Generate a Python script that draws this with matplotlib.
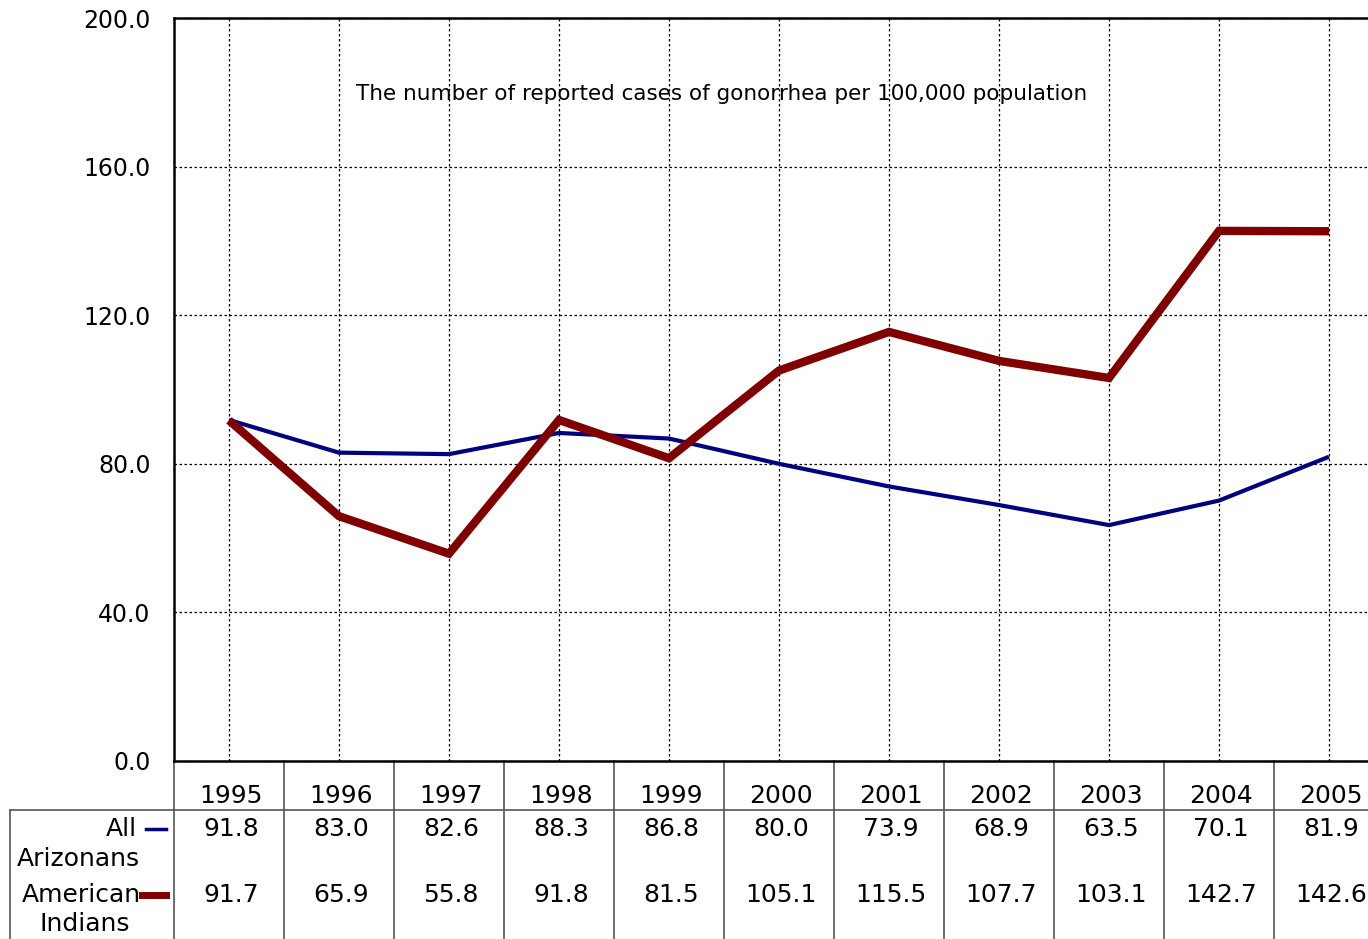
import matplotlib
matplotlib.use("Agg")
import matplotlib.pyplot as plt
from matplotlib.lines import Line2D

years = ["1995", "1996", "1997", "1998", "1999", "2000", "2001", "2002", "2003", "2004", "2005"]
all_arizonans = [91.8, 83.0, 82.6, 88.3, 86.8, 80.0, 73.9, 68.9, 63.5, 70.1, 81.9]
american_indians = [91.7, 65.9, 55.8, 91.8, 81.5, 105.1, 115.5, 107.7, 103.1, 142.7, 142.6]
yticks = [0, 40, 80, 120, 160, 200]
title_text = "The number of reported cases of gonorrhea per 100,000 population"
blue = "#000080"
red = "#800000"

plt.rcParams['font.family'] = ['DejaVu Sans']
W, H = 1368, 939
fig = plt.figure(figsize=(W / 100, H / 100), dpi=100)
left_px, right_px, top_px, bot_px = 174, 1384, 18, 761
ax = fig.add_axes([left_px / W, 1 - bot_px / H, (right_px - left_px) / W, (bot_px - top_px) / H])

x = list(range(len(years)))
ax.plot(x, all_arizonans, color=blue, lw=3.0, solid_joinstyle='miter', solid_capstyle='butt', zorder=3)
ax.plot(x, american_indians, color=red, lw=6.0, solid_joinstyle='miter', solid_capstyle='butt', zorder=4)

ax.set_xlim(-0.5, len(years) - 0.5)
ax.set_ylim(0, 200)
ax.set_yticks(yticks)
ax.set_yticklabels([f"{v:.1f}" for v in yticks], fontsize=17)
ax.tick_params(axis='y', length=0, pad=17)
ax.set_xticks(x)
ax.tick_params(axis='x', length=0, labelbottom=False)
ax.grid(True, color='black', linestyle=(0, (2, 2)), linewidth=0.9)
for s in ax.spines.values():
    s.set_linewidth(1.8)
    s.set_color('black')

ax.text(1.15, 179.5, title_text, fontsize=15.5, ha='left', va='center')

# Data table below the axes
tr = ax.get_xaxis_transform()
ph = bot_px - top_px
def yax(p):
    return (bot_px - p) / ph

y_head = yax(796)
y_r1 = yax(829)
y_r2 = yax(895)
y_sep = yax(810)
y_bot = yax(945)
tfs = 18
for i, yr in enumerate(years):
    ax.text(i + 0.02, y_head, yr, transform=tr, ha='center', va='center', fontsize=tfs, clip_on=False)
    ax.text(i + 0.02, y_r1, f"{all_arizonans[i]:.1f}", transform=tr, ha='center', va='center', fontsize=tfs, clip_on=False)
    ax.text(i + 0.02, y_r2, f"{american_indians[i]:.1f}", transform=tr, ha='center', va='center', fontsize=tfs, clip_on=False)
for i in range(len(years) + 1):
    ax.add_line(Line2D([i - 0.5, i - 0.5], [0, y_bot], transform=tr, color='#555555', lw=1.2, clip_on=False))
x_box = (10 - 229) / 110
ax.add_line(Line2D([x_box, len(years) - 0.5], [y_sep, y_sep], transform=tr, color='#555555', lw=1.2, clip_on=False))
ax.add_line(Line2D([x_box, x_box], [y_sep, y_bot], transform=tr, color='#555555', lw=1.2, clip_on=False))

def dx(p):
    return (p - 229) / 110

ax.text(dx(137), y_r1, "All", transform=tr, ha='right', va='center', fontsize=tfs, clip_on=False)
ax.text(dx(17), yax(859), "Arizonans", transform=tr, ha='left', va='center', fontsize=tfs, clip_on=False)
ax.add_line(Line2D([dx(146), dx(166)], [y_r1, y_r1], transform=tr, color=blue, lw=2.5, clip_on=False))
ax.text(dx(22), y_r2, "American", transform=tr, ha='left', va='center', fontsize=tfs, clip_on=False)
ax.text(dx(40), yax(924), "Indians", transform=tr, ha='left', va='center', fontsize=tfs, clip_on=False)
ax.add_line(Line2D([dx(142), dx(166)], [y_r2, y_r2], transform=tr, color=red, lw=5.0, clip_on=False, zorder=5))

fig.savefig("out.png", dpi=100)
